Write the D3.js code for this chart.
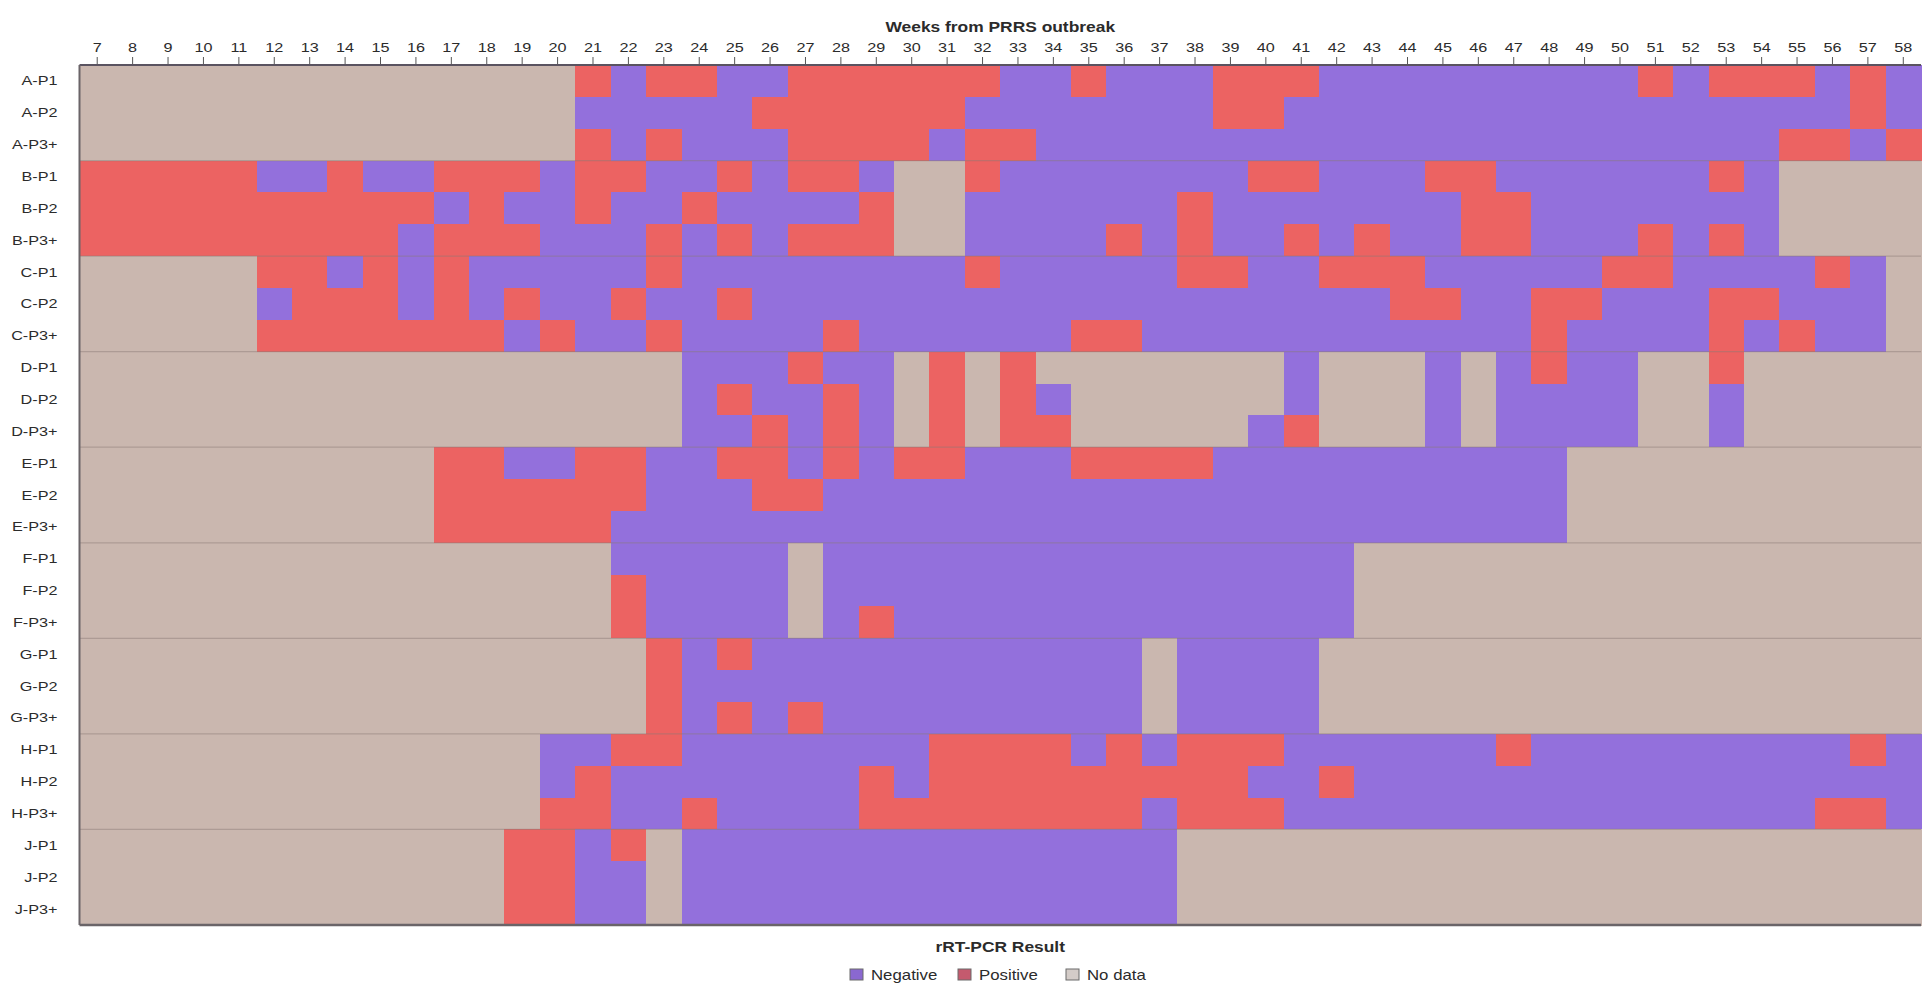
<!DOCTYPE html>
<html>
<head>
<meta charset="utf-8">
<script src="https://cdn.jsdelivr.net/npm/d3@7/dist/d3.min.js"></script>
<style>
  body { margin: 0; background: #fff; }
  svg { display: block; }
  text { font-family: "Liberation Sans", Arial, Helvetica, sans-serif; fill: #2b2b2b; }
</style>
</head>
<body>
<svg id="chart" width="1923" height="997"></svg>
<script>
// Weeks since the PRRS outbreak (column categories / tick labels)
const weeks = [7, 8, 9, 10, 11, 12, 13, 14, 15, 16, 17, 18, 19, 20, 21, 22, 23, 24, 25, 26,
  27, 28, 29, 30, 31, 32, 33, 34, 35, 36, 37, 38, 39, 40, 41, 42, 43, 44, 45, 46,
  47, 48, 49, 50, 51, 52, 53, 54, 55, 56, 57, 58];

// Farm / parity groups (row categories)
const samples = ["A-P1", "A-P2", "A-P3+", "B-P1", "B-P2", "B-P3+", "C-P1", "C-P2", "C-P3+",
  "D-P1", "D-P2", "D-P3+", "E-P1", "E-P2", "E-P3+", "F-P1", "F-P2", "F-P3+",
  "G-P1", "G-P2", "G-P3+", "H-P1", "H-P2", "H-P3+", "J-P1", "J-P2", "J-P3+"];

// rRT-PCR result per week, one string per row, grouped by 10 weeks (7-16, 17-26, ...)
// "-" = Negative, "+" = Positive, "." = No data
const results = [
  ".......... ....+-++-- ++++++--+- --+++----- ----+-+++- +-",
  ".......... ....-----+ +++++----- --++------ ---------- +-",
  ".......... ....+-+--- ++++-++--- ---------- --------++ -+",
  "+++++--+-- +++-++--+- ++-..+---- ---++---++ ------+-.. ..",
  "++++++++++ -+--+--+-- --+..----- -+-------+ +-------.. ..",
  "+++++++++- +++---+-+- +++..----+ -+--+-+--+ +---+-+-.. ..",
  ".....++-+- +-----+--- -----+---- -++--+++-- ---++----+ -.",
  ".....-+++- +-+--+--+- ---------- -------++- -++---++-- -.",
  ".....+++++ ++-+--+--- -+------++ ---------- -+----+-+- -.",
  ".......... .......--- +--.+.+... ....-...-. -+--..+... ..",
  ".......... .......-+- -+-.+.+-.. ....-...-. ----..-... ..",
  ".......... .......--+ -+-.+.++.. ...-+...-. ----..-... ..",
  ".......... ++--++--++ -+-++---++ ++-------- --........ ..",
  ".......... ++++++---+ +--------- ---------- --........ ..",
  ".......... +++++----- ---------- ---------- --........ ..",
  ".......... .....----- .--------- ------.... .......... ..",
  ".......... .....+---- .--------- ------.... .......... ..",
  ".......... .....+---- .-+------- ------.... .......... ..",
  ".......... ......+-+- ---------- .----..... .......... ..",
  ".......... ......+--- ---------- .----..... .......... ..",
  ".......... ......+-+- +--------- .----..... .......... ..",
  ".......... ...--++--- ----++++-+ -+++------ +--------- +-",
  ".......... ...-+----- --+-++++++ +++--+---- ---------- --",
  ".......... ...++--+-- --++++++++ -+++------ ---------+ +-",
  ".......... ..++-+.--- ---------- -......... .......... ..",
  ".......... ..++--.--- ---------- -......... .......... ..",
  ".......... ..++--.--- ---------- -......... .......... .."
];

const outcomes = ["Negative", "Positive", "No data"];
const outcomeCodes = { "-": "Negative", "+": "Positive", ".": "No data" };
const outcomeColors = ["#9370dc", "#ec6362", "#cab7af"];
const swatchColors = ["#8a68d0", "#c45a6e", "#d4ccc8"];

const svg = d3.select("#chart");
const W = 1923, H = 997;
const plot = { left: 79.5, right: 1921, top: 65, bottom: 925 };
const stretch = "scale(1.2,1)";

const x = d3.scaleBand().domain(weeks).range([plot.left, plot.right]).padding(0);
const y = d3.scaleBand().domain(samples).range([plot.top, plot.bottom]).padding(0);
const color = d3.scaleOrdinal().domain(outcomes).range(outcomeColors);

// Flatten the result strings into cells
const cells = [];
samples.forEach((s, i) => {
  const codes = results[i].replace(/ /g, "").split("");
  codes.forEach((c, j) => {
    cells.push({ sample: s, week: weeks[j], outcome: outcomeCodes[c] });
  });
});

// Heatmap cells
svg.append("g")
  .selectAll("rect")
  .data(cells)
  .join("rect")
  .attr("x", d => x(d.week))
  .attr("y", d => y(d.sample))
  .attr("width", x.bandwidth() + 0.6)
  .attr("height", y.bandwidth() + 0.6)
  .attr("fill", d => color(d.outcome))
  .attr("shape-rendering", "crispEdges");

// Separators between farms (every three rows)
const farmStarts = samples.filter((s, i) => i > 0 && i % 3 === 0);
svg.append("g")
  .selectAll("line")
  .data(farmStarts)
  .join("line")
  .attr("x1", plot.left)
  .attr("x2", plot.right)
  .attr("y1", d => y(d))
  .attr("y2", d => y(d))
  .attr("stroke", "#8a7a76")
  .attr("stroke-opacity", 0.45)
  .attr("stroke-width", 1.2);

// Frame: top axis line, left and bottom borders
svg.append("line")
  .attr("x1", plot.left).attr("x2", plot.right)
  .attr("y1", plot.top).attr("y2", plot.top)
  .attr("stroke", "#5a5360").attr("stroke-width", 2);
svg.append("line")
  .attr("x1", plot.left).attr("x2", plot.left)
  .attr("y1", plot.top).attr("y2", plot.bottom)
  .attr("stroke", "#6a6468").attr("stroke-width", 2);
svg.append("line")
  .attr("x1", plot.left).attr("x2", plot.right)
  .attr("y1", plot.bottom).attr("y2", plot.bottom)
  .attr("stroke", "#6a6468").attr("stroke-width", 2.5);

// Week axis along the top
const xAxis = svg.append("g")
  .attr("transform", `translate(0,${plot.top - 1})`)
  .call(d3.axisTop(x).tickSize(7).tickPadding(5));
xAxis.select(".domain").remove();
xAxis.selectAll(".tick line").attr("stroke", "#555").attr("stroke-width", 1);
xAxis.selectAll(".tick text")
  .attr("font-size", 13.5)
  .attr("fill", "#2b2b2b")
  .attr("transform", stretch);

// Row labels
svg.append("g")
  .selectAll("text")
  .data(samples)
  .join("text")
  .attr("text-anchor", "end")
  .attr("dominant-baseline", "central")
  .attr("font-size", 13.5)
  .attr("transform", d => `translate(${plot.left - 22},${y(d) + y.bandwidth() / 2}) ${stretch}`)
  .text(d => d);

// Axis title
const cx = (plot.left + plot.right) / 2;
svg.append("text")
  .attr("text-anchor", "middle")
  .attr("font-size", 14.5)
  .attr("font-weight", "bold")
  .attr("transform", `translate(${cx},32) ${stretch}`)
  .text("Weeks from PRRS outbreak");

// Legend
svg.append("text")
  .attr("text-anchor", "middle")
  .attr("font-size", 14.5)
  .attr("font-weight", "bold")
  .attr("transform", `translate(${cx},952) ${stretch}`)
  .text("rRT-PCR Result");

const legendX = [850, 958, 1066];
const legend = svg.append("g").selectAll("g")
  .data(outcomes)
  .join("g")
  .attr("transform", (d, i) => `translate(${legendX[i]},969)`);
legend.append("rect")
  .attr("width", 13).attr("height", 11)
  .attr("fill", (d, i) => swatchColors[i])
  .attr("stroke", "#6b6b6b").attr("stroke-width", 1);
legend.append("text")
  .attr("font-size", 14)
  .attr("dominant-baseline", "central")
  .attr("transform", `translate(21,6) ${stretch}`)
  .text(d => d);
</script>
</body>
</html>
